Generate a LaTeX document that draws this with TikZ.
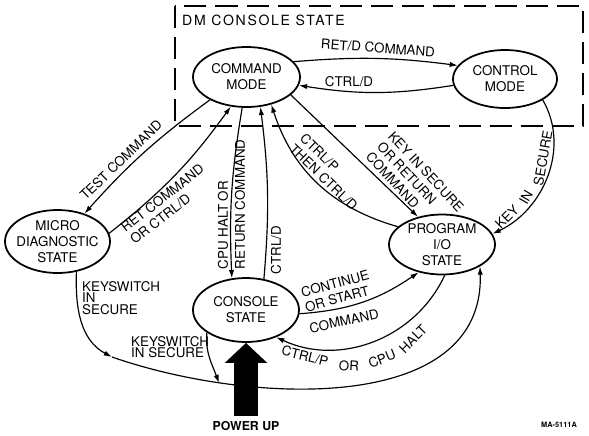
\documentclass[tikz,border=0pt]{standalone}
\usepackage{fontspec}
\setmainfont{TeX Gyre Heros}
\newfontfamily\titlefont[LetterSpace=12]{TeX Gyre Heros}
\usetikzlibrary{shapes,arrows.meta,calc}
\newcommand{\lblfont}{\fontsize{11.4}{13}\selectfont}

\tikzset{
  state/.style={ellipse,draw,line width=1.5pt,inner xsep=-4pt,inner ysep=0pt,align=center,font=\fontsize{11.4}{13.6}\selectfont},
  trans/.style={-{Latex[length=7pt,width=4.5pt]},line width=1pt},
  lbl/.style={inner sep=0pt,align=left,font=\lblfont}
}

\begin{document}
\begin{tikzpicture}[x=0.03cm,y=-0.03cm]
\useasboundingbox (0,0) rectangle (589,435);
\draw[line width=2.1pt,dash pattern=on 18.8pt off 7.7pt] (175,6) rectangle (583,126);
\node[anchor=west,inner sep=0pt,font=\titlefont\fontsize{12}{14}\selectfont] (dmtitle) at (182,20) {DM CONSOLE STATE};

\node[state,minimum width=3.21cm,minimum height=1.8cm] (cm) at (246.5,77) {COMMAND\\MODE};
\node[state,minimum width=3.12cm,minimum height=1.74cm] (ctl) at (505,79) {CONTROL\\MODE};
\node[state,minimum width=3.15cm,minimum height=1.89cm] (mds) at (57.5,241.5) {MICRO\\DIAGNOSTIC\\STATE};
\node[state,minimum width=3.18cm,minimum height=1.92cm] (cs) at (246,310) {CONSOLE\\STATE};
\node[state,minimum width=3.18cm,minimum height=1.8cm] (pio) at (442,244.5) {PROGRAM\\I/O\\STATE};

\node[font=\bfseries\fontsize{10.5}{12}\selectfont,inner sep=1pt] (pwr) at (246,426) {POWER UP};
\node[font=\bfseries\fontsize{6.3}{7}\selectfont,inner sep=0pt] (fig) at (559,425) {MA-5111A};

\coordinate (j1) at (112,357);
\coordinate (j2) at (219,383);

\draw[trans] (cm.18) to[bend left=6] (ctl.164);
\draw[trans] (ctl.187) to[bend left=9] (cm.-9);
\draw[trans] (cm.-148) to[bend right=6] (mds.46);
\draw[trans] (mds.9) to[bend right=8] (cm.-118);
\draw[trans] (cm.-98) to[bend right=6] (cs.114);
\draw[trans] (cs.60) to[bend right=6] (cm.-65);
\draw[trans] (pio.158) to[bend left=28] (cm.-48);
\draw[trans] (cm.-22) -- (pio.131);
\draw[trans] (ctl.-29) to[out=-60,in=25] (pio.12);
\draw[trans] (cs.-4) to[bend right=15] (pio.-130);
\draw[trans] (pio.-85) to[out=-115,in=-25] (cs.-42);
\draw[trans] (mds.-58) to[out=-92,in=152] (j1);
\draw[trans] (cs.-150) to[out=-95,in=110] (j2);
\draw[trans] (j1) .. controls (250,405) and (485,415) .. (pio.-30);
\draw[line width=20.5pt,-{Triangle[length=17pt,width=35pt]}] ($(pwr.north)+(0,-3.5)$) -- (cs.south);

\node[lbl,rotate=-4] (l1) at (378,48) {RET/D COMMAND};
\node[lbl] (l2) at (349,82) {CTRL/D};
\node[lbl,rotate=44] (l3) at (121,160) {TEST COMMAND};
\node[lbl,rotate=38] (l4) at (167,204) {RET COMMAND\\OR CTRL/D};
\node[lbl,rotate=90,font=\fontsize{11.4}{14.5}\selectfont] (l5) at (231.5,204.5) {CPU HALT OR\\RETURN COMMAND};
\node[lbl,rotate=90] (l6) at (276,250) {CTRL/D};
\node[lbl,rotate=-44] (l7) at (329,172) {CTRL/P\\THEN CTRL/D};
\node[lbl,rotate=-47] (l8) at (415,182) {KEY IN SECURE\\OR RETURN\\COMMAND};
\node[lbl,rotate=15] (l9) at (337,291) {CONTINUE\\OR START};
\node[lbl,rotate=12] (l10) at (344,321) {COMMAND};
\node[lbl,anchor=north west,font=\fontsize{11.4}{10}\selectfont] (l11) at (82,281) {KEYSWITCH\\IN\\SECURE};
\node[lbl,anchor=north west,font=\fontsize{11.4}{10}\selectfont] (l12) at (131,336) {KEYSWITCH\\IN SECURE};
\node[lbl,rotate=45] (k1) at (507,217) {KEY};
\node[lbl,rotate=60] (k2) at (526,197) {IN};
\node[lbl,rotate=80] (k3) at (543,158) {SECURE};
\node[lbl,rotate=-14] (h1) at (305,356) {CTRL/P};
\node[lbl,rotate=-3] (h2) at (349,366) {OR};
\node[lbl,rotate=22] (h3) at (382,359) {CPU};
\node[lbl,rotate=45] (h4) at (413,339) {HALT};
\end{tikzpicture}
\end{document}
